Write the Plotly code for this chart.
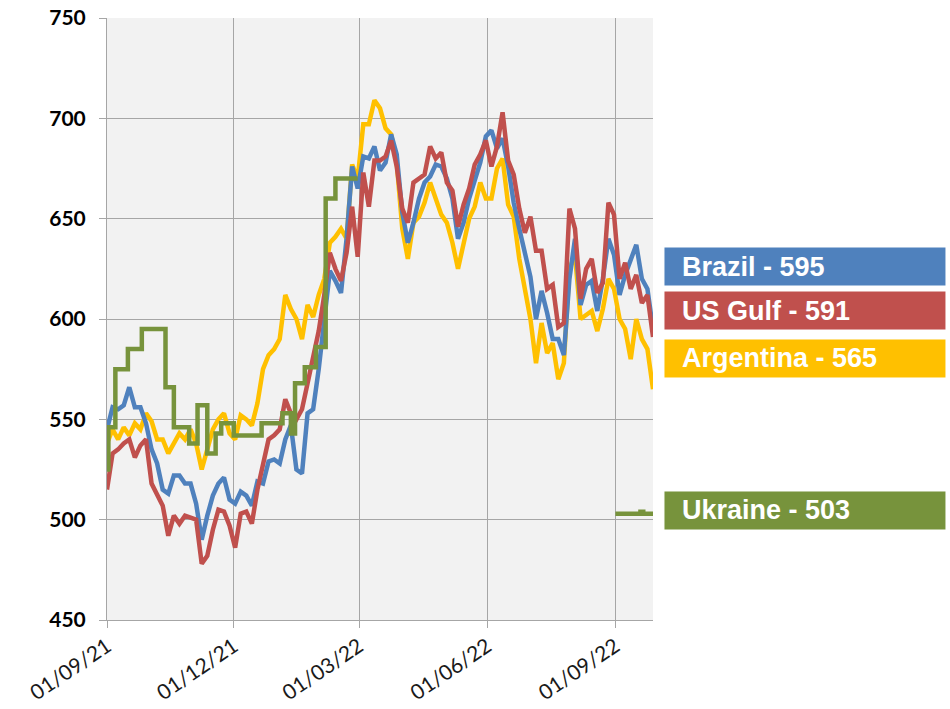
import pandas as pd
import plotly.graph_objects as go

# Common date grid (every 4 days)
dates = pd.date_range("2021-09-01", periods=99, freq="4D")

brazil = [545, 556, 555, 557, 566, 556, 556, 548, 535, 528,
          515, 513, 522, 522, 518, 518, 508, 490, 502, 512,
          518, 521, 510, 508, 514, 512, 507, 519, 518, 529,
          530, 528, 540, 547, 525, 523, 553, 555, 575, 600,
          624, 619, 613, 640, 676, 665, 681, 680, 686, 674,
          678, 692, 682, 653, 638, 648, 660, 668, 671, 677,
          676, 670, 660, 640, 648, 660, 669, 678, 691, 694,
          685, 690, 676, 658, 645, 633, 621, 600, 614, 603,
          590, 590, 582, 620, 640, 607, 617, 619, 604, 620,
          640, 632, 612, 622, 630, 637, 620, 615, 595]

us_gulf = [515, 533, 535, 538, 540, 531, 537, 540, 518, 513,
           507, 492, 502, 498, 502, 501, 500, 478, 482, 495,
           505, 504, 497, 486, 503, 504, 498, 515, 527, 540,
           542, 545, 560, 553, 550, 555, 568, 580, 594, 612,
           633, 625, 619, 633, 656, 631, 673, 656, 679, 679,
           681, 689, 676, 655, 648, 668, 670, 672, 686, 680,
           683, 668, 664, 646, 657, 665, 677, 682, 689, 676,
           686, 703, 679, 672, 655, 643, 651, 634, 634, 615,
           617, 596, 598, 655, 645, 610, 625, 630, 613, 618,
           658, 652, 620, 628, 615, 622, 608, 612, 591]

argentina = [538, 545, 540, 546, 542, 548, 545, 553, 549, 540,
             540, 533, 538, 543, 540, 545, 538, 525, 535, 545,
             550, 553, 543, 540, 552, 550, 547, 558, 575, 582,
             585, 590, 612, 605, 600, 590, 607, 601, 612, 620,
             638, 641, 645, 640, 677, 670, 697, 697, 709, 705,
             695, 692, 678, 645, 630, 648, 651, 658, 668, 660,
             652, 648, 638, 625, 638, 650, 656, 668, 660, 660,
             675, 680, 657, 651, 630, 615, 600, 578, 598, 583,
             588, 570, 578, 625, 632, 600, 602, 604, 594, 605,
             620, 615, 600, 595, 580, 600, 590, 585, 565]

# Ukraine: step series (value holds until next date), gap during war
ukraine_dates = ["2021-09-01", "2021-09-02", "2021-09-07", "2021-09-16", "2021-09-26",
                 "2021-10-13", "2021-10-19", "2021-10-30", "2021-11-05", "2021-11-12",
                 "2021-11-18", "2021-11-22", "2021-12-01", "2021-12-21", "2022-01-05",
                 "2022-01-11", "2022-01-14", "2022-01-21", "2022-01-29", "2022-02-05",
                 "2022-02-12", "2022-02-28", "2022-03-01",
                 "2022-09-01", "2022-09-10", "2022-09-18", "2022-09-19", "2022-09-21",
                 "2022-09-28"]
ukraine = [525, 546, 575, 585, 595,
           566, 546, 538, 557, 533,
           543, 548, 542, 548, 553,
           543, 568, 576, 586, 660,
           670, 670, None,
           503, 503, 503, 504, 503,
           503]

series = [
    ("Argentina", argentina, "#FFC000"),
    ("Brazil", brazil, "#4F81BD"),
    ("US Gulf", us_gulf, "#C0504D"),
]

fig = go.Figure()
for name, vals, col in series:
    fig.add_trace(go.Scatter(x=dates, y=vals, mode="lines", name=name,
                             line=dict(color=col, width=4.5), showlegend=False))
fig.add_trace(go.Scatter(x=pd.to_datetime(ukraine_dates), y=ukraine, mode="lines",
                         name="Ukraine", line=dict(color="#77933C", width=4.5, shape="hv"),
                         connectgaps=False, showlegend=False))

# Right-hand value boxes (label text built from the last data values)
boxes = [
    ("Brazil", brazil[-1], "#4F81BD", 0.6196, 0.5548),
    ("US Gulf", us_gulf[-1], "#C0504D", 0.5465, 0.4817),
    ("Argentina", argentina[-1], "#FFC000", 0.4668, 0.4020),
    ("Ukraine", ukraine[-1], "#77933C", 0.2143, 0.1495),
]
for name, val, col, y1, y0 in boxes:
    fig.add_shape(type="rect", xref="paper", yref="paper", x0=1.0201, x1=1.5366,
                  y0=y0, y1=y1, fillcolor=col, line=dict(color="white", width=1),
                  layer="above")
    fig.add_annotation(xref="paper", yref="paper", x=1.0495, y=(y0 + y1) / 2,
                       xanchor="left", yanchor="middle", showarrow=False,
                       text=f"<b>{name} - {val}</b>",
                       font=dict(family="Liberation Sans, Arial", size=27, color="white"))

fig.update_layout(
    width=950, height=709,
    margin=dict(l=107, r=297, t=18, b=89, autoexpand=False),
    paper_bgcolor="white", plot_bgcolor="#F2F2F2",
    xaxis=dict(range=["2021-09-01", "2022-09-28"], type="date", automargin=False,
               tickvals=["2021-09-01", "2021-12-01", "2022-03-01", "2022-06-01", "2022-09-01"],
               tickformat="%d/%m/%y", tickangle=-34, ticklabeloverflow="allow",
               tickfont=dict(family="Lato", size=21, color="#1a1a1a"),
               ticklabelstandoff=-2,
               showgrid=True, gridcolor="#A6A6A6", gridwidth=1,
               ticks="outside", ticklen=7, tickcolor="#A6A6A6",
               showline=True, linecolor="#A6A6A6", zeroline=False),
    yaxis=dict(range=[450, 750], dtick=50, tick0=450, automargin=False,
               ticklabeloverflow="allow",
               tickfont=dict(family="Lato", size=21, color="black", weight="bold"),
               ticklabelstandoff=9,
               showgrid=True, gridcolor="#A6A6A6", gridwidth=1,
               ticks="outside", ticklen=7, tickcolor="#A6A6A6",
               showline=True, linecolor="#A6A6A6", zeroline=False),
)

# Remove the default 8px page margin so the 950x709 figure fills the window
fig.write_html("out.html", config={"displayModeBar": False},
               post_script="document.body.style.margin='0';document.body.style.overflow='hidden';")
